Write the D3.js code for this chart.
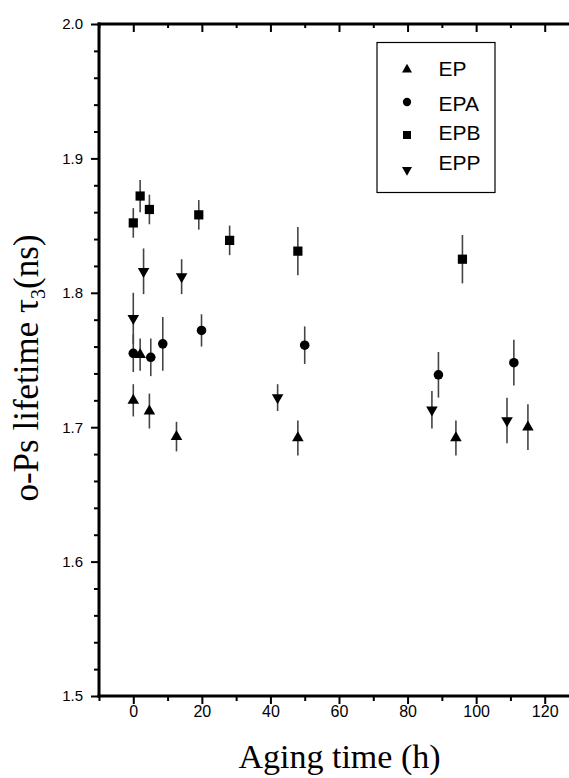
<!DOCTYPE html>
<html>
<head>
<meta charset="utf-8">
<script src="https://cdn.jsdelivr.net/npm/d3@7"></script>
<style>
  html, body { margin: 0; padding: 0; background: #fff; }
  svg { display: block; }
</style>
</head>
<body>
<div id="chart"></div>
<script>
// o-Ps lifetime tau3 versus aging time for four epoxy samples
const seriesNames = ["EP", "EPA", "EPB", "EPP"];

const epTime  = [0, 2.0, 4.7, 12.6, 48.0, 94.1, 115.1];
const epTau   = [1.720, 1.754, 1.712, 1.693, 1.692, 1.692, 1.700];
const epErr   = [0.012, 0.012, 0.013, 0.011, 0.013, 0.013, 0.017];

const epaTime = [0, 5.1, 8.6, 19.9, 50.0, 89.0, 111.0];
const epaTau  = [1.755, 1.752, 1.762, 1.772, 1.761, 1.739, 1.748];
const epaErr  = [0.014, 0.014, 0.020, 0.012, 0.014, 0.017, 0.017];

const epbTime = [0, 2.0, 4.7, 19.1, 28.1, 48.0, 96.0];
const epbTau  = [1.852, 1.872, 1.862, 1.858, 1.839, 1.831, 1.825];
const epbErr  = [0.011, 0.012, 0.011, 0.011, 0.011, 0.018, 0.018];

const eppTime = [0, 3.0, 14.1, 42.1, 87.1, 109.0];
const eppTau  = [1.781, 1.816, 1.812, 1.722, 1.713, 1.705];
const eppErr  = [0.019, 0.017, 0.013, 0.010, 0.014, 0.017];

const xTicks = [0, 20, 40, 60, 80, 100, 120];
const yTicks = [1.5, 1.6, 1.7, 1.8, 1.9, 2.0];

const W = 569, H = 778;
const plotLeft = 99, plotTop = 24, plotBottom = 696;

const svg = d3.select("#chart").append("svg")
  .attr("width", W).attr("height", H);

const x = d3.scaleLinear().domain([-10, 130]).range([plotLeft, plotLeft + 480]);
const y = d3.scaleLinear().domain([1.5, 2.0]).range([plotBottom, plotTop]);

const tickFont = "'Liberation Sans', Arial, sans-serif";
const titleFont = "'Liberation Serif', 'Times New Roman', serif";

function styleTicks(g) {
  g.selectAll(".tick line").attr("stroke-width", 2).attr("stroke", "#000");
  g.selectAll(".domain").remove();
}

// bottom axis: minor ticks every 10 h, labelled majors every 20 h
const xMinor = d3.range(-10, 131, 10).filter(v => !xTicks.includes(v));
const gx1 = svg.append("g").attr("transform", `translate(0,${plotBottom})`)
  .call(d3.axisBottom(x).tickValues(xMinor).tickSize(5).tickFormat(""));
const gx2 = svg.append("g").attr("transform", `translate(0,${plotBottom})`)
  .call(d3.axisBottom(x).tickValues(xTicks).tickSize(8).tickPadding(2).tickFormat(d3.format("d")));
styleTicks(gx1); styleTicks(gx2);
gx2.selectAll("text").attr("font-family", tickFont).attr("font-size", 16).attr("fill", "#000");

// top edge: mirrored ticks pointing into the plot
const gt1 = svg.append("g").attr("transform", `translate(0,${plotTop})`)
  .call(d3.axisBottom(x).tickValues(xMinor).tickSize(4).tickFormat(""));
const gt2 = svg.append("g").attr("transform", `translate(0,${plotTop})`)
  .call(d3.axisBottom(x).tickValues(xTicks).tickSize(8).tickFormat(""));
styleTicks(gt1); styleTicks(gt2);

// left axis: minor ticks every 0.02 ns
const yMinor = d3.range(0, 26).map(i => 1.5 + i * 0.02)
  .filter(v => !yTicks.some(t => Math.abs(t - v) < 1e-6));
const gy1 = svg.append("g").attr("transform", `translate(${plotLeft},0)`)
  .call(d3.axisLeft(y).tickValues(yMinor).tickSize(5).tickFormat(""));
const gy2 = svg.append("g").attr("transform", `translate(${plotLeft},0)`)
  .call(d3.axisLeft(y).tickValues(yTicks).tickSize(8).tickPadding(8).tickFormat(d3.format(".1f")));
styleTicks(gy1); styleTicks(gy2);
gy2.selectAll("text").attr("font-family", tickFont).attr("font-size", 15).attr("fill", "#000");

// axis frame lines
svg.append("line").attr("x1", plotLeft).attr("x2", plotLeft).attr("y1", plotTop - 1.5).attr("y2", plotBottom + 1.5)
  .attr("stroke", "#000").attr("stroke-width", 3);
svg.append("line").attr("x1", plotLeft - 1.5).attr("x2", W).attr("y1", plotBottom).attr("y2", plotBottom)
  .attr("stroke", "#000").attr("stroke-width", 3);
svg.append("line").attr("x1", plotLeft - 1.5).attr("x2", W).attr("y1", plotTop).attr("y2", plotTop)
  .attr("stroke", "#000").attr("stroke-width", 3);

// titles
svg.append("text")
  .attr("x", 339.5).attr("y", 768)
  .attr("text-anchor", "middle")
  .attr("font-family", titleFont).attr("font-size", 34)
  .text("Aging time (h)");

const yt = svg.append("text")
  .attr("transform", "translate(38,368) rotate(-90)")
  .attr("text-anchor", "middle")
  .attr("font-family", titleFont).attr("font-size", 35);
yt.append("tspan").text("o-Ps lifetime \u03C4");
yt.append("tspan").attr("font-size", 20).attr("dy", 7).text("3");
yt.append("tspan").attr("dy", -7).text("(ns)");

// marker shapes per sample
const symbolTypes = {
  EP:  d3.symbolTriangle,
  EPA: d3.symbolCircle,
  EPB: d3.symbolSquare,
  EPP: d3.symbolTriangle
};
const symbolSizes = { EP: 58, EPA: 72, EPB: 85, EPP: 58 };
const symbolRot = { EP: 0, EPA: 0, EPB: 0, EPP: 180 };

const series = [
  { name: "EP",  t: epTime,  v: epTau,  e: epErr },
  { name: "EPA", t: epaTime, v: epaTau, e: epaErr },
  { name: "EPB", t: epbTime, v: epbTau, e: epbErr },
  { name: "EPP", t: eppTime, v: eppTau, e: eppErr }
];

// error bars first, markers on top
const plot = svg.append("g");
series.forEach(s => {
  const pts = s.t.map((t, i) => ({ t, v: s.v[i], e: s.e[i] }));
  plot.append("g").selectAll("line").data(pts).join("line")
    .attr("x1", d => x(d.t)).attr("x2", d => x(d.t))
    .attr("y1", d => y(d.v + d.e)).attr("y2", d => y(d.v - d.e))
    .attr("stroke", "#444").attr("stroke-width", 1.6);
});
series.forEach(s => {
  const pts = s.t.map((t, i) => ({ t, v: s.v[i] }));
  const sym = d3.symbol().type(symbolTypes[s.name]).size(symbolSizes[s.name]);
  plot.append("g").selectAll("path").data(pts).join("path")
    .attr("d", sym)
    .attr("transform", d => `translate(${x(d.t)},${y(d.v)}) rotate(${symbolRot[s.name]})`)
    .attr("fill", "#000");
});

// legend
const lg = svg.append("g");
lg.append("rect").attr("x", 377).attr("y", 42.5).attr("width", 118).attr("height", 150)
  .attr("fill", "#fff").attr("stroke", "#000").attr("stroke-width", 1.2);
const legendSymY = [69.5, 102, 135, 170];
const legendTextY = [76, 111, 140, 170];
seriesNames.forEach((n, i) => {
  const sym = d3.symbol().type(symbolTypes[n]).size(symbolSizes[n] * 0.75);
  lg.append("path").attr("d", sym)
    .attr("transform", `translate(407,${legendSymY[i]}) rotate(${symbolRot[n]})`)
    .attr("fill", "#000");
  lg.append("text").attr("x", 438.5).attr("y", legendTextY[i])
    .attr("font-family", tickFont).attr("font-size", 21)
    .text(n);
});
</script>
</body>
</html>
